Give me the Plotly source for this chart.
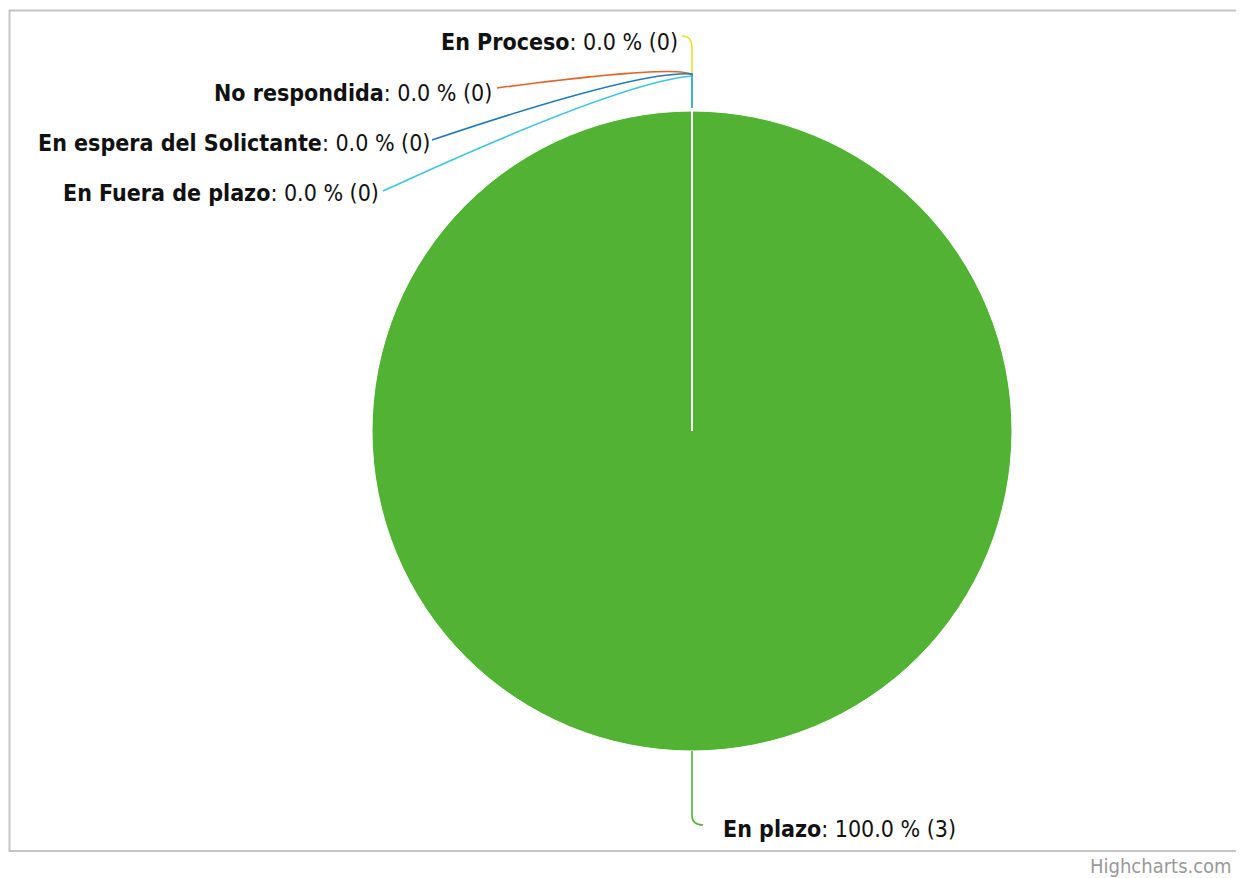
import plotly.graph_objects as go

# ---- data ----
categories = ["En plazo", "En Fuera de plazo", "En espera del Solictante", "No respondida", "En Proceso"]
counts = [3, 0, 0, 0, 0]
colors = ["#52b233", "#3cc4e0", "#1f78b8", "#e0642c", "#e4e22e"]

# page body has an 8px margin; the figure fills the rest of the 1244x878 window
OFF = 8
W, H = 1244 - OFF, 878 - OFF
def px(x): return (x - OFF) / W
def py(y): return 1 - (y - OFF) / H

total = sum(counts)
percents = [100.0 * c / total for c in counts]

# pie geometry (reference pixels)
cx, cy, R = 692, 431, 320

fig = go.Figure()
fig.add_trace(go.Pie(
    labels=categories, values=counts, sort=False, direction="clockwise", rotation=0,
    marker=dict(colors=colors, line=dict(color="#ffffff", width=1)),
    textinfo="none", showlegend=False,
    domain=dict(x=[px(cx - R), px(cx + R)], y=[py(cy + R), py(cy - R)]),
))

# label layout (reference pixels): anchor x, y, xanchor
label_pos = [
    (721, 829, "left"),
    (381, 193, "right"),
    (432, 143, "right"),
    (494, 93, "right"),
    (680, 42, "right"),
]
top = cy - R
conn = [
    [("M", 692, cy + R), ("L", 692, 815), ("Q", 692, 825, 703, 825)],
    [("M", 383, 191), ("Q", 620, 82, 692, 76), ("L", 692, top - 3)],
    [("M", 432, 140), ("Q", 640, 70, 692, 74), ("L", 692, top - 3)],
    [("M", 497, 88), ("Q", 680, 64, 692, 75), ("L", 692, top - 3)],
    [("M", 682, 36), ("Q", 692, 36, 692, 48), ("L", 692, top - 3)],
]

shapes = []
# chart border: right side runs off the page
shapes.append(dict(type="path", xref="paper", yref="paper",
                   path=f"M {px(1300)},{py(10.5)} L {px(9.5)},{py(10.5)} L {px(9.5)},{py(851)} L {px(1300)},{py(851)}",
                   line=dict(color="#c4c4c4", width=2), layer="below"))
for i in [4, 3, 2, 1, 0]:
    d = ""
    for s in conn[i]:
        if s[0] in ("M", "L"):
            d += f"{s[0]} {px(s[1])},{py(s[2])} "
        else:
            d += f"Q {px(s[1])},{py(s[2])} {px(s[3])},{py(s[4])} "
    shapes.append(dict(type="path", xref="paper", yref="paper", path=d.strip(),
                       line=dict(color=colors[i], width=1.6)))
shapes.append(dict(type="line", xref="paper", yref="paper",
                   x0=px(cx), x1=px(cx), y0=py(cy), y1=py(cy - R),
                   line=dict(color="#ffffff", width=2)))

annotations = []
for i, name in enumerate(categories):
    x, y, xa = label_pos[i]
    annotations.append(dict(
        x=px(x), y=py(y), xref="paper", yref="paper", xanchor=xa, yanchor="middle",
        showarrow=False,
        text=f"<b>{name}</b>: {percents[i]:.1f} % ({counts[i]})",
        font=dict(family="DejaVu Sans Condensed", size=23, color="#111111"),
    ))
annotations.append(dict(x=px(1234), y=py(866), xref="paper", yref="paper",
                        xanchor="right", yanchor="middle", showarrow=False,
                        text="Highcharts.com",
                        font=dict(family="DejaVu Sans Condensed", size=20, color="#999999")))

fig.update_layout(
    width=W, height=H, margin=dict(l=0, r=0, t=0, b=0),
    paper_bgcolor="#ffffff", plot_bgcolor="#ffffff",
    shapes=shapes, annotations=annotations,
)
fig.write_html("out.html")
